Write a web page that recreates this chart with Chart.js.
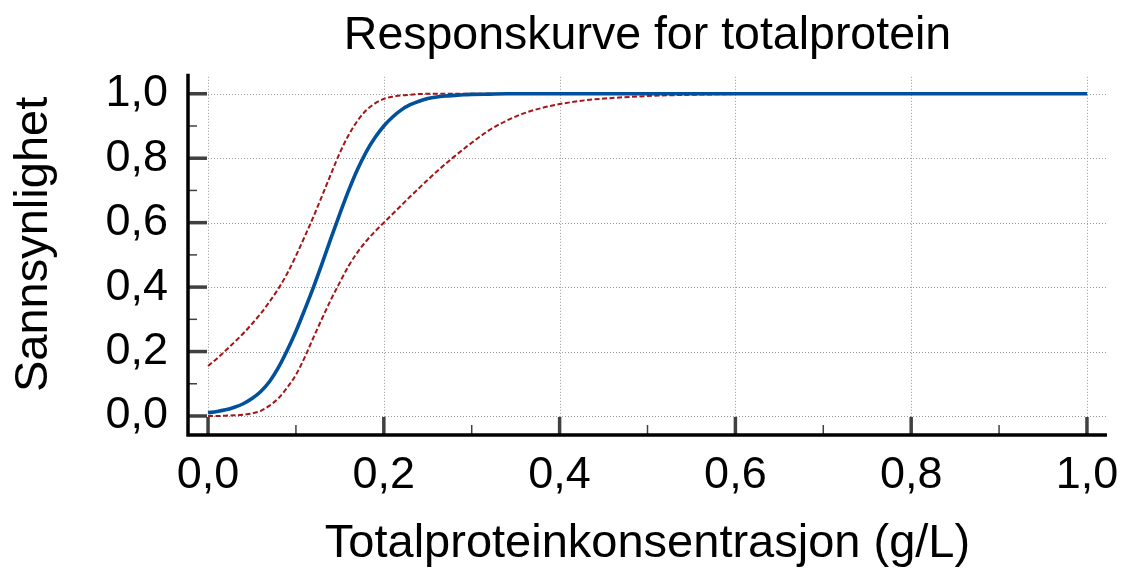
<!DOCTYPE html>
<html>
<head>
<meta charset="utf-8">
<script src="https://cdn.jsdelivr.net/npm/chart.js@4.4.1/dist/chart.umd.min.js"></script>
<style>
  html, body { margin: 0; padding: 0; background: #ffffff; }
  #wrap { width: 1124px; height: 568px; }
</style>
</head>
<body>
<div id="wrap"><canvas id="c" width="1124" height="568"></canvas></div>
<script>
// ---- Data ----
const xValues = [0, 0.01, 0.02, 0.03, 0.04, 0.05, 0.06, 0.07, 0.08, 0.09, 0.10, 0.11, 0.12, 0.13, 0.14, 0.15, 0.16, 0.17, 0.18, 0.19, 0.20, 0.21, 0.22, 0.23, 0.24, 0.25, 0.26, 0.27, 0.28, 0.29, 0.30, 0.32, 0.34, 0.36, 0.38, 0.40, 0.43, 0.46, 0.50, 0.55, 0.60, 0.65, 0.70, 0.80, 0.90, 1.00];
const fitted  = [0.010, 0.014, 0.019, 0.027, 0.038, 0.054, 0.076, 0.107, 0.150, 0.203, 0.263, 0.330, 0.400, 0.475, 0.553, 0.628, 0.700, 0.765, 0.820, 0.864, 0.900, 0.928, 0.950, 0.966, 0.977, 0.985, 0.990, 0.993, 0.995, 0.997, 0.998, 0.999, 1.0, 1.0, 1.0, 1.0, 1.0, 1.0, 1.0, 1.0, 1.0, 1.0, 1.0, 1.0, 1.0, 1.0];
const upperCI = [0.155, 0.178, 0.203, 0.229, 0.256, 0.286, 0.318, 0.355, 0.395, 0.442, 0.497, 0.557, 0.619, 0.685, 0.752, 0.817, 0.872, 0.916, 0.949, 0.970, 0.984, 0.991, 0.995, 0.997, 0.999, 1.0, 1.0, 1.0, 1.0, 1.0, 1.0, 1.0, 1.0, 1.0, 1.0, 1.0, 1.0, 1.0, 1.0, 1.0, 1.0, 1.0, 1.0, 1.0, 1.0, 1.0];
const lowerCI = [0.000, 0.000, 0.001, 0.002, 0.004, 0.008, 0.016, 0.032, 0.055, 0.088, 0.128, 0.182, 0.244, 0.304, 0.362, 0.415, 0.466, 0.508, 0.543, 0.573, 0.600, 0.627, 0.654, 0.681, 0.707, 0.733, 0.758, 0.782, 0.805, 0.827, 0.848, 0.887, 0.917, 0.940, 0.956, 0.968, 0.980, 0.987, 0.993, 0.997, 0.999, 1.0, 1.0, 1.0, 1.0, 1.0];

const xMajorTicks = [0, 0.2, 0.4, 0.6, 0.8, 1.0];
const xMinorTicks = [0.1, 0.3, 0.5, 0.7, 0.9];
const yMajorTicks = [0, 0.2, 0.4, 0.6, 0.8, 1.0];
const yMinorTicks = [0.1, 0.3, 0.5, 0.7, 0.9];

const titleText = 'Responskurve for totalprotein';
const xTitle = 'Totalproteinkonsentrasjon (g/L)';
const yTitle = 'Sannsynlighet';

const toPts = arr => xValues.map((x, i) => ({ x: x, y: arr[i] }));
const fmt = v => Number(v).toFixed(1).replace('.', ',');

const FONT = "'Liberation Sans', Arial, sans-serif";

// dotted grid, inward ticks, axis lines and y title, positioned through the chart's scales
const axisDecor = {
  id: 'axisDecor',
  beforeDatasetsDraw(chart) {
    const { ctx, chartArea, scales } = chart;
    const xs = scales.x, ys = scales.y;
    ctx.save();
    ctx.strokeStyle = '#999999';
    ctx.lineWidth = 1;
    ctx.setLineDash([1, 2]);
    yMajorTicks.forEach(v => {
      const py = Math.round(ys.getPixelForValue(v)) + 0.5;
      ctx.beginPath();
      ctx.moveTo(chartArea.left + 20, py);
      ctx.lineTo(chartArea.right, py);
      ctx.stroke();
    });
    xMajorTicks.forEach(v => {
      const px = Math.round(xs.getPixelForValue(v)) + 0.5;
      ctx.beginPath();
      ctx.moveTo(px, chartArea.top + 3);
      ctx.lineTo(px, chartArea.bottom - 18);
      ctx.stroke();
    });
    ctx.restore();
  },
  afterDraw(chart) {
    const { ctx, chartArea, scales } = chart;
    const xs = scales.x, ys = scales.y;
    ctx.save();
    ctx.strokeStyle = '#404040';
    ctx.setLineDash([]);
    ctx.lineWidth = 3.5;
    yMajorTicks.forEach(v => {
      const py = ys.getPixelForValue(v);
      ctx.beginPath(); ctx.moveTo(chartArea.left, py); ctx.lineTo(chartArea.left + 19, py); ctx.stroke();
    });
    ctx.lineWidth = 1.5;
    yMinorTicks.forEach(v => {
      const py = ys.getPixelForValue(v);
      ctx.beginPath(); ctx.moveTo(chartArea.left, py); ctx.lineTo(chartArea.left + 9, py); ctx.stroke();
    });
    ctx.lineWidth = 3.5;
    xMajorTicks.forEach(v => {
      const px = xs.getPixelForValue(v);
      ctx.beginPath(); ctx.moveTo(px, chartArea.bottom); ctx.lineTo(px, chartArea.bottom - 18); ctx.stroke();
    });
    ctx.lineWidth = 1.5;
    xMinorTicks.forEach(v => {
      const px = xs.getPixelForValue(v);
      ctx.beginPath(); ctx.moveTo(px, chartArea.bottom); ctx.lineTo(px, chartArea.bottom - 10); ctx.stroke();
    });
    ctx.strokeStyle = '#000000';
    ctx.lineWidth = 3.5;
    ctx.beginPath();
    ctx.moveTo(chartArea.left, chartArea.top);
    ctx.lineTo(chartArea.left, chartArea.bottom);
    ctx.lineTo(chartArea.right, chartArea.bottom);
    ctx.stroke();
    // y axis title
    ctx.translate(34, (chartArea.top + chartArea.bottom) / 2 - 10);
    ctx.rotate(-Math.PI / 2);
    ctx.fillStyle = '#000000';
    ctx.font = '47px ' + FONT;
    ctx.textAlign = 'center';
    ctx.textBaseline = 'middle';
    ctx.fillText(yTitle, 0, 0);
    ctx.restore();
  }
};

new Chart(document.getElementById('c'), {
  type: 'line',
  data: {
    datasets: [
      {
        label: 'Tilpasset',
        data: toPts(fitted),
        borderColor: '#00509c',
        borderWidth: 3.6,
        pointRadius: 0,
        cubicInterpolationMode: 'monotone',
        order: 0
      },
      {
        label: 'Øvre',
        data: toPts(upperCI),
        borderColor: '#a51515',
        borderWidth: 2,
        borderDash: [5, 2.5],
        pointRadius: 0,
        cubicInterpolationMode: 'monotone',
        order: 1
      },
      {
        label: 'Nedre',
        data: toPts(lowerCI),
        borderColor: '#a51515',
        borderWidth: 2,
        borderDash: [5, 2.5],
        pointRadius: 0,
        cubicInterpolationMode: 'monotone',
        order: 2
      }
    ]
  },
  plugins: [axisDecor],
  options: {
    responsive: false,
    animation: false,
    devicePixelRatio: 1,
    layout: { padding: { left: 0, right: 17, top: 0, bottom: 0 } },
    plugins: {
      legend: { display: false },
      tooltip: { enabled: false },
      title: {
        display: true,
        text: titleText,
        fullSize: false,
        color: '#000000',
        font: { family: FONT, size: 46.5, weight: 'normal', lineHeight: 1.2 },
        padding: { top: 8, bottom: 10 }
      }
    },
    scales: {
      x: {
        type: 'linear',
        min: -0.0228,
        max: 1.0228,
        afterBuildTicks: s => { s.ticks = xMajorTicks.map(v => ({ value: v })); },
        afterFit: s => { s.height = 133; s.paddingLeft = 0; s.paddingRight = 0; },
        grid: { display: false, drawTicks: false },
        border: { display: false },
        ticks: {
          autoSkip: false,
          maxRotation: 0,
          color: '#000000',
          padding: 14,
          font: { family: FONT, size: 45 },
          callback: v => fmt(v)
        },
        title: {
          display: true,
          text: xTitle,
          color: '#000000',
          font: { family: FONT, size: 47, lineHeight: 1.2 },
          padding: { top: 0, bottom: -4 }
        }
      },
      y: {
        type: 'linear',
        min: -0.059,
        max: 1.062,
        afterBuildTicks: s => { s.ticks = yMajorTicks.map(v => ({ value: v })); },
        afterFit: s => { s.width = 188; s.paddingTop = 0; s.paddingBottom = 0; },
        grid: { display: false, drawTicks: false },
        border: { display: false },
        ticks: {
          autoSkip: false,
          color: '#000000',
          padding: 20,
          font: { family: FONT, size: 45 },
          callback: v => fmt(v)
        },
        title: { display: false }
      }
    }
  }
});
</script>
</body>
</html>
